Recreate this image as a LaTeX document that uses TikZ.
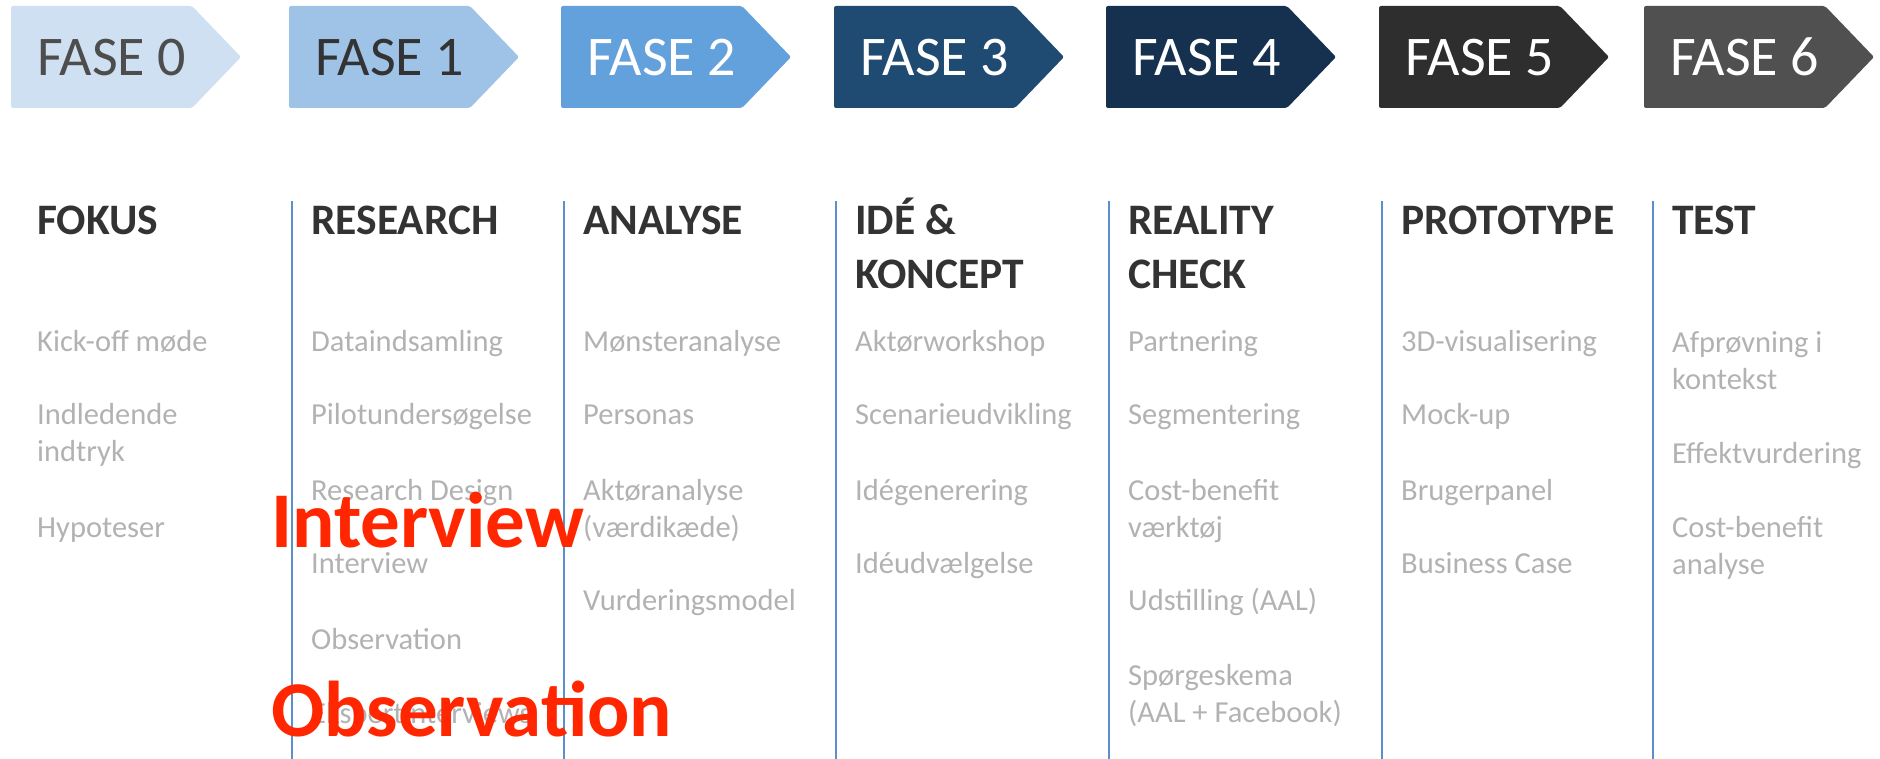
\documentclass[tikz,border=0pt]{standalone}
\usepackage{fontspec}
\setmainfont{Carlito}
\usepackage{tikz}
\usetikzlibrary{positioning}
\definecolor{fase0}{RGB}{207,224,242}
\definecolor{fase1}{RGB}{159,195,231}
\definecolor{fase2}{RGB}{99,161,221}
\definecolor{fase3}{RGB}{31,74,114}
\definecolor{fase4}{RGB}{22,48,79}
\definecolor{fase5}{RGB}{46,46,46}
\definecolor{fase6}{RGB}{80,80,80}
\definecolor{darktxt}{RGB}{77,77,77}
\definecolor{headgray}{RGB}{51,51,51}
\definecolor{itemgray}{RGB}{178,178,178}
\definecolor{lineblue}{RGB}{91,143,204}
\definecolor{alertred}{RGB}{255,38,0}
\tikzset{
fasebox/.style={rounded corners=2pt}, % the arrow shaped phase labels
fasetext/.style={anchor=base west, inner sep=0pt, font=\fontsize{56}{60}\selectfont},
colhead/.style={anchor=base west, inner sep=0pt, align=left, text=headgray,
  font=\fontsize{43.5}{54}\selectfont\bfseries},
item/.style={anchor=base west, inner sep=0pt, align=left, text=itemgray,
  font=\fontsize{30.5}{37}\selectfont},
divider/.style={lineblue, line width=2pt},
redlabel/.style={anchor=base west, inner sep=0pt, text=alertred,
  font=\fontsize{79}{80}\selectfont\bfseries},
}

\begin{document}
\begin{tikzpicture}[x=1pt,y=-1pt]
  \useasboundingbox (0,0) rectangle (1880,759);

  % phase arrows
  \foreach \x/\n/\t in {11/0/darktxt,289/1/headgray,561/2/white,834/3/white,
                        1106/4/white,1379/5/white,1644/6/white}{
    \fill[fasebox, fase\n] (\x,6) -- ++(181,0) -- ++(49,51) -- ++(-49,51)
      -- ++(-181,0) -- cycle;
    \node[fasetext, text=\t] (fase\n) at (\x+26,76) {FASE \n};
  }

  % column dividers
  \foreach \x in {292,564,836,1109,1382,1653}
    \draw[divider] (\x,201) -- (\x,759);

  % column heads (base = last line)
  \node[colhead] (fokus)     at (37,235)   {FOKUS};
  \node[colhead] (research)  at (311,235)  {RESEARCH};
  \node[colhead] (analyse)   at (583,235)  {ANALYSE};
  \node[colhead] (ide)       at (855,289)  {IDÉ \&\\KONCEPT};
  \node[colhead] (reality)   at (1128,289) {REALITY\\CHECK};
  \node[colhead] (prototype) at (1401,235) {PROTOTYPE};
  \node[colhead] (test)      at (1672,235) {TEST};

  % FASE 0
  \node[item] (kickoff)  at (37,352) {Kick-off møde};
  \node[item] (indtryk)  at (37,461) {Indledende\\indtryk};
  \node[item] (hypotese) at (37,537) {Hypoteser};
  % FASE 1
  \node[item] (data)     at (311,352) {Dataindsamling};
  \node[item] (pilot)    at (311,424) {Pilotundersøgelse};
  \node[item] (design)   at (311,500) {Research Design};
  \node[item] (inter)    at (311,573) {Interview};
  \node[item] (obs)      at (311,649) {Observation};
  \node[item] (ekspert)  at (311,723) {Ekspertinterviews};
  % FASE 2
  \node[item] (moenster) at (583,352) {Mønsteranalyse};
  \node[item] (persona)  at (583,424) {Personas};
  \node[item] (aktoer)   at (583,537) {Aktøranalyse\\(værdikæde)};
  \node[item] (vurder)   at (583,610) {Vurderingsmodel};
  % FASE 3
  \node[item] (workshop) at (855,352) {Aktørworkshop};
  \node[item] (scenarie) at (855,424) {Scenarieudvikling};
  \node[item] (idegen)   at (855,500) {Idégenerering};
  \node[item] (ideudv)   at (855,573) {Idéudvælgelse};
  % FASE 4
  \node[item] (partner)  at (1128,352) {Partnering};
  \node[item] (segment)  at (1128,424) {Segmentering};
  \node[item] (costvaerk) at (1128,537) {Cost-benefit\\værktøj};
  \node[item] (udstil)   at (1128,610) {Udstilling (AAL)};
  \node[item] (spoerg)   at (1128,722) {Spørgeskema\\(AAL + Facebook)};
  % FASE 5
  \node[item] (visual)   at (1401,352) {3D-visualisering};
  \node[item] (mockup)   at (1401,424) {Mock-up};
  \node[item] (panel)    at (1401,500) {Brugerpanel};
  \node[item] (bcase)    at (1401,573) {Business Case};
  % FASE 6
  \node[item] (afproev)  at (1672,389) {Afprøvning i\\kontekst};
  \node[item] (effekt)   at (1672,463) {Effektvurdering};
  \node[item] (costanal) at (1672,574) {Cost-benefit\\analyse};

  % red labels on top
  \node[redlabel] (redinter) at (271,547) {Interview};
  \node[redlabel] (redobs)   at (271,736) {Observation};
\end{tikzpicture}
\end{document}
